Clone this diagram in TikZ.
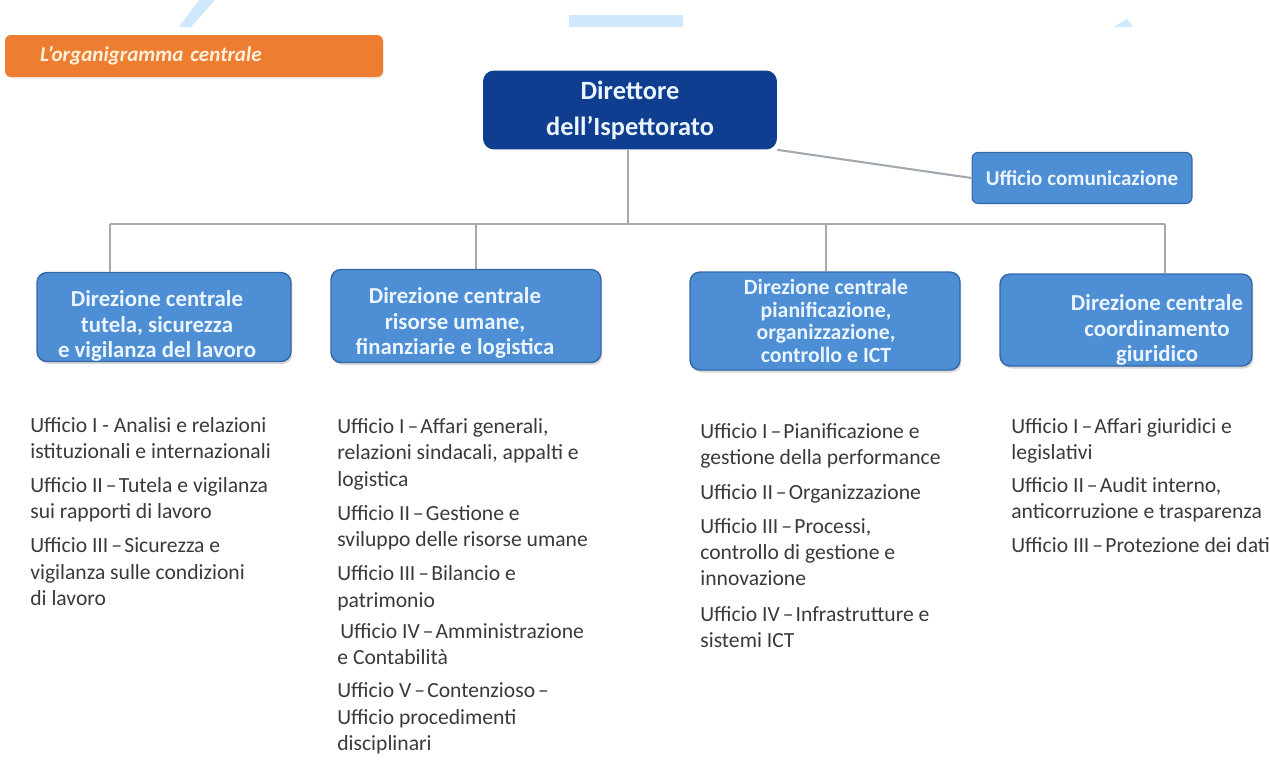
\documentclass[tikz,border=0pt]{standalone}
\usepackage{fontspec}
\setmainfont{Carlito}
\usetikzlibrary{shadows}

\definecolor{orgorange}{HTML}{ED7D31}
\definecolor{orgnavy}{HTML}{0F3D8F}
\definecolor{orgblue}{HTML}{4E8ED4}
\definecolor{orgedge}{HTML}{3468A8}
\definecolor{orgline}{HTML}{A3A9B0}
\definecolor{orgtext}{HTML}{3A3A3A}
\definecolor{orgpale}{HTML}{EAF5FF}
\definecolor{orgcream}{HTML}{FFF1DC}
\definecolor{orgmark}{HTML}{CFE8FB}

\newcommand{\ud}{\hspace{0.14em}–\hspace{0.1em}}

\begin{document}
\begin{tikzpicture}[x=0.02cm, y=0.02cm]
	\tikzstyle{every node}+=[inner sep=0pt]
	\tikzstyle{titlebox}=[fill=orgorange, rounded corners=0.12cm, inner xsep=0.7cm, text width=6.16cm, minimum height=0.84cm, align=left, text=orgcream, font=\fontsize{12}{14}\selectfont\bfseries\itshape, drop shadow={opacity=0.15, shadow xshift=0.02cm, shadow yshift=-0.03cm}]
	\tikzstyle{headbox}=[fill=orgnavy, rounded corners=0.22cm, minimum width=5.88cm, minimum height=1.58cm, align=center, text=orgpale, font=\fontsize{15}{20.4}\selectfont\bfseries]
	\tikzstyle{sidebox}=[fill=orgblue, draw=orgedge, line width=0.6pt, rounded corners=0.12cm, minimum width=4.4cm, minimum height=1.02cm, text=orgpale, font=\fontsize{12}{14}\selectfont\bfseries]
	\tikzstyle{dirbox}=[fill=orgblue, draw=orgedge, line width=0.8pt, rounded corners=0.2cm, drop shadow={opacity=0.3, shadow xshift=0.03cm, shadow yshift=-0.05cm}]
	\tikzstyle{dirtext}=[align=center, text=orgpale, font=\fontsize{13}{14.7}\selectfont\bfseries]
	\tikzstyle{ulist}=[anchor=north west, align=left, text=orgtext, font=\fontsize{12.3}{15}\selectfont]
	\tikzstyle{orgconn}=[draw=orgline, line width=1.2pt]

	\useasboundingbox (0,0) rectangle (1270,-765);

	\fill [orgmark] (199,0) -- (215,0) -- (191,-27) -- (179,-27) -- cycle;
	\fill [orgmark] (569,-15) rectangle (683,-27);
	\fill [orgmark] (1114,-27) -- (1133,-27) -- (1127,-19) -- cycle;

	\node [titlebox] (title) at (194,-56) {L’organigramma centrale};

	\node [headbox] (dir) at (630,-110) {Direttore\\dell’Ispettorato};
	\node [sidebox] (comm) at (1082,-178) {Ufficio comunicazione};

	\node [dirbox, minimum width=5.08cm, minimum height=1.78cm] (d1) at (164,-317) {};
	\node [dirbox, minimum width=5.4cm, minimum height=1.86cm] (d2) at (466,-316) {};
	\node [dirbox, minimum width=5.4cm, minimum height=1.96cm] (d3) at (825,-321) {};
	\node [dirbox, minimum width=5.04cm, minimum height=1.84cm] (d4) at (1126,-320) {};

	\node [dirtext] (t1) at (157,-326) {Direzione centrale\\tutela, sicurezza\\e vigilanza del lavoro};
	\node [dirtext] (t2) at (455,-323) {Direzione centrale\\risorse umane,\\finanziarie e logistica};
	\node [dirtext, font=\fontsize{12.4}{12.8}\selectfont\bfseries] (t3) at (826,-321) {Direzione centrale\\pianificazione,\\organizzazione,\\controllo e ICT};
	\node [dirtext] (t4) at (1157,-330) {Direzione centrale\\coordinamento\\giuridico};

	\coordinate (bus) at (628,-224);
	\coordinate (j1) at (110,-224);
	\coordinate (j2) at (476,-224);
	\coordinate (j3) at (826,-224);
	\coordinate (j4) at (1165,-224);

	\draw [orgconn] (dir.south east) -- (comm.west);
	\draw [orgconn] (dir.south -| bus) -- (bus);
	\draw [orgconn] (j1) -- (j4);
	\draw [orgconn] (j1) -- (j1 |- d1.north);
	\draw [orgconn] (j2) -- (j2 |- d2.north);
	\draw [orgconn] (j3) -- (j3 |- d3.north);
	\draw [orgconn] (j4) -- (j4 |- d4.north);

	\node [ulist] (u1) at (30,-417) {Ufficio I - Analisi e relazioni\\
		istituzionali e internazionali\\[4pt]
		Ufficio II\ud Tutela e vigilanza\\
		sui rapporti di lavoro\\[4.5pt]
		Ufficio III\ud Sicurezza e\\
		vigilanza sulle condizioni\\
		di lavoro};
	\node [ulist] (u2) at (337,-418) {Ufficio I\ud Affari generali,\\
		relazioni sindacali, appalti e\\
		logistica\\[4.5pt]
		Ufficio II\ud Gestione e\\
		sviluppo delle risorse umane\\[4.5pt]
		Ufficio III\ud Bilancio e\\
		patrimonio\\[2.5pt]
		\hspace*{0.06cm}Ufficio IV\ud Amministrazione\\
		e Contabilità\\[4pt]
		Ufficio V\ud Contenzioso\ud\\
		Ufficio procedimenti\\
		disciplinari};
	\node [ulist] (u3) at (700,-423) {Ufficio I\ud Pianificazione e\\
		gestione della performance\\[5pt]
		Ufficio II\ud Organizzazione\\[4pt]
		Ufficio III\ud Processi,\\
		controllo di gestione e\\
		innovazione\\[5pt]
		Ufficio IV\ud Infrastrutture e\\
		sistemi ICT};
	\node [ulist] (u4) at (1011,-418) {Ufficio I\ud Affari giuridici e\\
		legislativi\\[3.5pt]
		Ufficio II\ud Audit interno,\\
		anticorruzione e trasparenza\\[4.5pt]
		Ufficio III\ud Protezione dei dati};
\end{tikzpicture}
\end{document}
